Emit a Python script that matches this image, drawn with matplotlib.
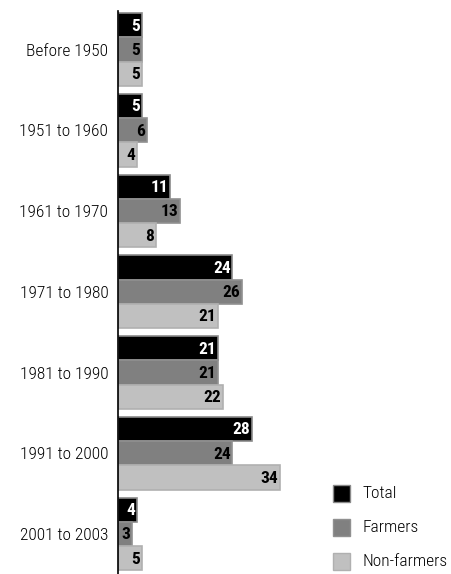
import matplotlib
matplotlib.use("Agg")
import matplotlib.pyplot as plt
from matplotlib.patches import Rectangle

categories = ["Before 1950", "1951 to 1960", "1961 to 1970", "1971 to 1980",
              "1981 to 1990", "1991 to 2000", "2001 to 2003"]
total = [5, 5, 11, 24, 21, 28, 4]
farmers = [5, 6, 13, 26, 21, 24, 3]
non_farmers = [5, 4, 8, 21, 22, 34, 5]
series_names = ["Total", "Farmers", "Non-farmers"]

plt.rcParams['font.family'] = ['Roboto Condensed', 'Archivo Narrow', 'Fira Sans Condensed', 'DejaVu Sans']

W, H = 451, 574
fig = plt.figure(figsize=(W / 100, H / 100), dpi=100)
ax = fig.add_axes([118 / W, 0, 1 - 118 / W, 1 - 11 / H])

colors = ["#000000", "#808080", "#c0c0c0"]
edges = ["#8a8a8a", "#909090", "#b0b0b0"]
txtc = ["white", "black", "black"]
h = 0.3
offs = [-0.3, 0, 0.3]
for s, vals in enumerate([total, farmers, non_farmers]):
    for i, v in enumerate(vals):
        y = i + offs[s]
        ax.barh(y, v, height=h, color=colors[s], edgecolor=edges[s], linewidth=1.2)
        ax.text(v - 0.35, y + 0.01, str(v), ha="right", va="center",
                color=txtc[s], fontsize=12.5, fontweight="bold")

ax.set_xlim(0, (W - 118) / 4.77)
ax.set_ylim(6.495, -0.477)
for sp in ["top", "right", "bottom"]:
    ax.spines[sp].set_visible(False)
ax.spines["left"].set_linewidth(1.2)
ax.set_xticks([])
ax.set_yticks(range(len(categories)))
ax.set_yticklabels(categories, fontsize=12.5, fontweight="light")
ax.tick_params(axis="y", length=0, pad=7)

# legend
for k, name in enumerate(series_names):
    yc = 493 + 34 * k
    fig.patches.append(Rectangle((333 / W, 1 - (yc + 9) / H), 17 / W, 17 / H,
                                 transform=fig.transFigure, facecolor=colors[k],
                                 edgecolor=edges[k], linewidth=1.0))
    fig.text(363 / W, 1 - yc / H, name, ha="left", va="center", fontsize=12.5,
             fontweight="light")

fig.text(22 / W, 1 + 4 / H, "p", ha="left", va="baseline", fontsize=12.5, fontweight="light")

fig.savefig("out.png", dpi=100)
